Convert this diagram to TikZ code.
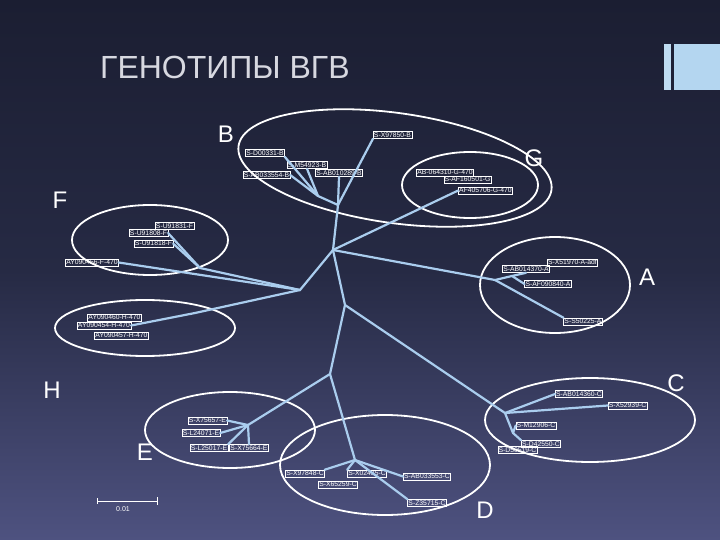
\documentclass[tikz,border=0pt]{standalone}
\usepackage{fontspec}
\setmainfont{Liberation Sans}
\usetikzlibrary{shapes.geometric}
\definecolor{bgtop}{RGB}{27,30,50}
\definecolor{bgmid}{RGB}{38,42,68}
\definecolor{bgbot}{RGB}{78,82,128}
\definecolor{branch}{RGB}{170,205,238}
\definecolor{titlec}{RGB}{215,216,224}
\definecolor{barc}{RGB}{180,214,240}
\newcommand{\lblfont}{\fontsize{6.8}{7}\selectfont}
\newcommand{\bigfont}{\fontsize{24}{24}\selectfont}
\tikzset{
  lbl/.style={draw=white, line width=0.5pt, text=white, font=\lblfont, inner sep=0.8pt, text height=5pt, text depth=0.5pt},
  br/.style={draw=branch, line width=2.2pt, line cap=round},
  ell/.style={draw=white, line width=1.8pt},
  big/.style={text=white, font=\bigfont, inner sep=0pt}
}
\begin{document}
\begin{tikzpicture}[x=1pt,y=-1pt]
\shade[top color=bgtop, bottom color=bgbot, middle color=bgmid] (0,0) rectangle (720,540);
\useasboundingbox (0,0) rectangle (720,540);
% title and decoration
\node[text=titlec, font=\fontsize{32}{32}\selectfont, anchor=base west, inner sep=0pt] (title) at (100,79) {ГЕНОТИПЫ ВГВ};
\fill[barc!85!white] (664,44) rectangle (671,90);
\fill[barc] (674,44) rectangle (720,90);
% ellipses
\draw[ell] (395,168) ellipse [x radius=158, y radius=55, rotate=-8];
\draw[ell] (470,185) ellipse [x radius=68, y radius=33];
\draw[ell] (150,240) ellipse [x radius=78, y radius=35];
\draw[ell] (145,328) ellipse [x radius=90, y radius=28];
\draw[ell] (555,285) ellipse [x radius=75, y radius=48];
\draw[ell] (590,420) ellipse [x radius=105, y radius=42];
\draw[ell] (230,430) ellipse [x radius=85, y radius=38];
\draw[ell] (385,465) ellipse [x radius=105, y radius=50];
% big letters
\node[big] (LB) at (226,134) {B};
\node[big] (LG) at (534,158) {G};
\node[big] (LF) at (60,200) {F};
\node[big] (LA) at (647,277) {A};
\node[big] (LH) at (52,390) {H};
\node[big] (LC) at (676,383) {C};
\node[big] (LE) at (145,452) {E};
\node[big] (LD) at (485,510) {D};
% internal coordinates
\coordinate (c0) at (333,250);
\coordinate (bn) at (338,205);
\coordinate (b2) at (318,196);
\coordinate (c1) at (300,290);
\coordinate (c2) at (345,305);
\coordinate (fn) at (200,268);
\coordinate (hn) at (195,313);
\coordinate (a1) at (495,280);
\coordinate (a2) at (512,276);
\coordinate (j) at (330,374);
\coordinate (e1) at (248,425);
\coordinate (dn) at (355,460);
\coordinate (cn) at (505,413);
\coordinate (c3) at (513,433);
% labels
\node[lbl] (X97850) at (392.5,135) {S-X97850-B};
\node[lbl] (D00331) at (265,153) {S-D00331-B};
\node[lbl] (M54923) at (307,165) {S-M54923-B};
\node[lbl] (AB033554) at (266.5,175) {S-AB033554-B};
\node[lbl] (AB010289) at (339,173) {S-AB010289-B};
\node[lbl] (AB064310) at (445,172.5) {AB-064310-G-470};
\node[lbl] (AF160501) at (467.5,179.5) {S-AF160501-G};
\node[lbl] (AF405706) at (485.5,190.5) {AF405706-G-470};
\node[lbl] (U91831) at (174.5,226) {S-U91831-F};
\node[lbl] (U91808) at (148.5,233) {S-U91808-F};
\node[lbl] (U91818) at (153.5,243.5) {S-U91818-F};
\node[lbl] (AY456) at (92,262.5) {AY090456-F-470};
\node[lbl] (X51970) at (572.5,262.5) {S-X51970-A-adf};
\node[lbl] (AB014370) at (526,269) {S-AB014370-A};
\node[lbl] (AF090840) at (548,284) {S-AF090840-A};
\node[lbl] (AY460) at (114.5,317.5) {AY090460-H-470};
\node[lbl] (AY454) at (104,325.5) {AY090454-H-470};
\node[lbl] (AY457) at (121.5,335.5) {AY090457-H-470};
\node[lbl] (S50225) at (583,321.5) {S-S50225-A};
\node[lbl] (AB014360) at (579,394) {S-AB014360-C};
\node[lbl] (X52939) at (627.5,405.5) {S-X52939-C};
\node[lbl] (M12906) at (536,425.5) {S-M12906-C};
\node[lbl] (D42550) at (541,444) {S-D42550-C};
\node[lbl] (D50519) at (517.5,450) {S-D50519-C};
\node[lbl] (X75657) at (207.5,420.5) {S-X75657-E};
\node[lbl] (L24071) at (201,433) {S-L24071-E};
\node[lbl] (L25017) at (209,448) {S-L25017-E};
\node[lbl] (X75664) at (249,448) {S-X75664-E};
\node[lbl] (X97848) at (305,473.5) {S-X97848-C};
\node[lbl] (X65259) at (338,484.5) {S-X65259-C};
\node[lbl] (X02435) at (367,473.5) {S-X02435-C};
\node[lbl] (AB033553) at (427,476.5) {S-AB033553-C};
\node[lbl] (Z35715) at (427,503) {S-Z35715-C};
% branches
\draw[br] (c0) -- (bn) -- (AB010289.south);
\draw[br] (bn) -- (X97850.south west);
\draw[br] (bn) -- (b2) -- (D00331.south east);
\draw[br] (b2) -- (M54923.south);
\draw[br] (b2) -- (AB033554.east);
\draw[br] (c0) -- (AF405706.west);
\draw[br] (c0) -- (c1) -- (fn) -- (U91808.east);
\draw[br] (fn) -- (U91818.east);
\draw[br] (c1) -- (AY456.east);
\draw[br] (c1) -- (hn) -- (AY454.east);
\draw[br] (c0) -- (a1) -- (a2) -- (AB014370.south);
\draw[br] (a2) -- (AF090840.west);
\draw[br] (a1) -- (S50225.north west);
\draw[br] (c0) -- (c2) -- (j) -- (e1) -- (X75657.east);
\draw[br] (e1) -- (L24071.east);
\draw[br] (e1) -- (L25017.north east);
\draw[br] (e1) -- (X75664.north);
\draw[br] (j) -- (dn) -- (X97848.north east);
\draw[br] (dn) -- (X02435.north west);
\draw[br] (dn) -- (AB033553.west);
\draw[br] (dn) -- (Z35715.north west);
\draw[br] (c2) -- (cn) -- (AB014360.west);
\draw[br] (cn) -- (X52939.west);
\draw[br] (cn) -- (c3) -- (D42550.north west);
\draw[br] (c3) -- (M12906.west);
% scale bar
\coordinate (s1) at (97,501);
\coordinate (s2) at (157,501);
\draw[white, line width=0.8pt] (s1) -- (s2);
\draw[white, line width=0.8pt] (97,498) -- (97,504);
\draw[white, line width=0.8pt] (157,497) -- (157,505);
\node[text=white, font=\fontsize{7}{7}\selectfont] (scale) at (123,509) {0.01};
\end{tikzpicture}
\end{document}
